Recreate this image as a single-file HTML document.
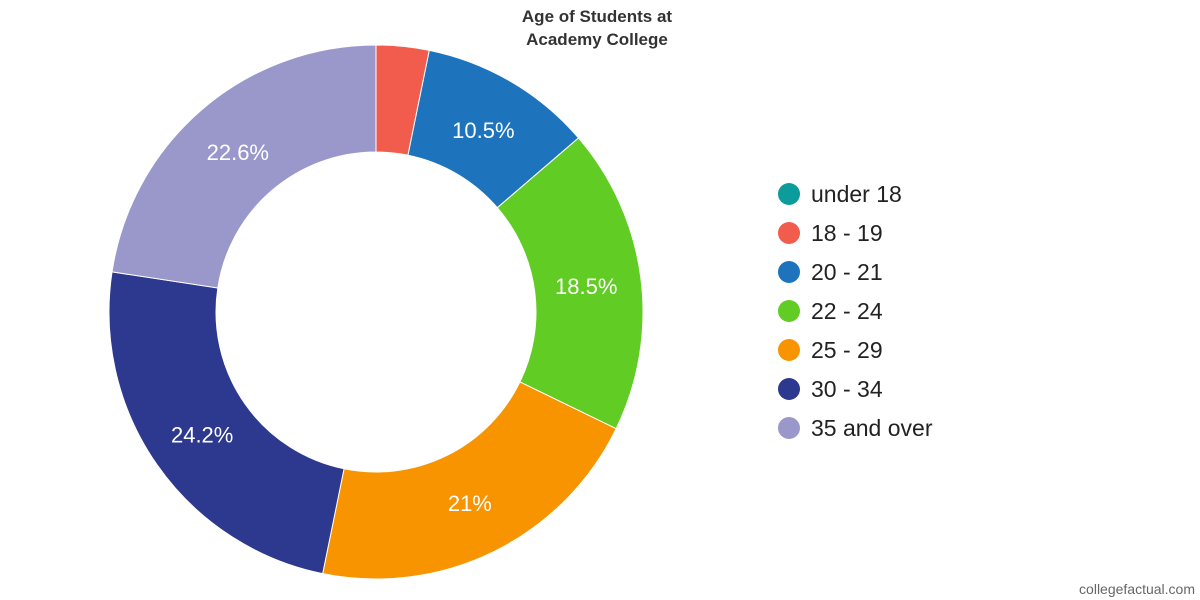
<!DOCTYPE html>
<html><head><meta charset="utf-8"><style>
body{margin:0;background:#fff;}
svg{display:block;font-family:"Liberation Sans",sans-serif;}
</style></head><body>
<svg id="s" width="1200" height="600" viewBox="0 0 1200 600">
<text x="597" y="22" text-anchor="middle" font-size="17" font-weight="bold" fill="#333">Age of Students at</text>
<text x="597" y="45" text-anchor="middle" font-size="17" font-weight="bold" fill="#333">Academy College</text>
<g id="pie"></g>
<g font-size="23" fill="#222">
<circle cx="789" cy="194" r="11" fill="#0c9c9c"/><text x="811" y="202">under 18</text>
<circle cx="789" cy="233" r="11" fill="#f25c4c"/><text x="811" y="241">18 - 19</text>
<circle cx="789" cy="272" r="11" fill="#1e74bc"/><text x="811" y="280">20 - 21</text>
<circle cx="789" cy="311" r="11" fill="#60cc24"/><text x="811" y="319">22 - 24</text>
<circle cx="789" cy="350" r="11" fill="#f89400"/><text x="811" y="358">25 - 29</text>
<circle cx="789" cy="389" r="11" fill="#2d388f"/><text x="811" y="397">30 - 34</text>
<circle cx="789" cy="428" r="11" fill="#9a98cb"/><text x="811" y="436">35 and over</text>
</g>
<text x="1195" y="594" text-anchor="end" font-size="14" fill="#666">collegefactual.com</text>
</svg>
<script>
var d=[[3.2,"#f25c4c",""],[10.5,"#1e74bc","10.5%"],[18.5,"#60cc24","18.5%"],[21,"#f89400","21%"],[24.2,"#2d388f","24.2%"],[22.6,"#9a98cb","22.6%"]];
var cx=376,cy=312,R=267,r=160,a=0,g=document.getElementById("pie"),h="";
function p(rad,t){var an=t/100*2*Math.PI;return [cx+rad*Math.sin(an),cy-rad*Math.cos(an)];}
d.forEach(function(s){var b=a+s[0],l=s[0]>50?1:0,p1=p(R,a),p2=p(R,b),p3=p(r,b),p4=p(r,a);
h+='<path d="M'+p1+' A'+R+','+R+' 0 '+l+' 1 '+p2+' L'+p3+' A'+r+','+r+' 0 '+l+' 0 '+p4+' Z" fill="'+s[1]+'" stroke="#fff" stroke-width="1"/>';
if(s[2]){var m=p(212,(a+b)/2);h+='<text x="'+m[0]+'" y="'+(m[1]+9)+'" text-anchor="middle" font-size="22" fill="#fff">'+s[2]+'</text>';}
a=b;});
g.innerHTML=h;
</script>
</body></html>
